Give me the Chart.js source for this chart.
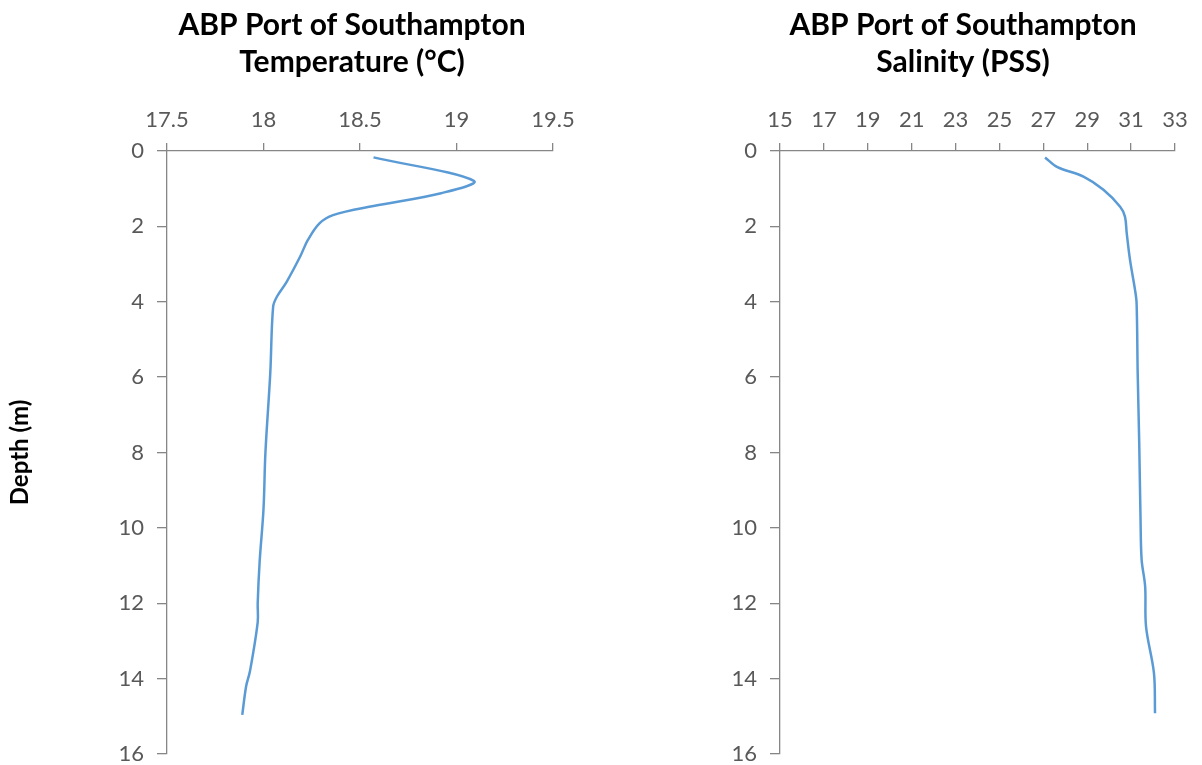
<!DOCTYPE html>
<html>
<head>
<meta charset="utf-8">
<script src="https://cdn.jsdelivr.net/npm/chart.js@4/dist/chart.umd.min.js"></script>
<style>
  html, body { margin: 0; padding: 0; overflow: hidden; background: #fff; }
  canvas { position: absolute; top: 0; display: block; }
  #tempChart { left: 0; }
  #salChart { left: 600px; }
</style>
</head>
<body>
<canvas id="tempChart" width="600" height="765"></canvas>
<canvas id="salChart" width="602" height="765"></canvas>
<script>
// depth profile
const tempDepth = [0.17, 0.79, 1.12, 1.46, 1.70, 1.92, 2.36, 2.80, 3.47, 3.86, 4.13, 5.9, 8.0, 9.5, 10.9, 12.0, 12.5, 13.8, 14.2, 14.96];
const temperature = [18.57, 19.09, 18.92, 18.57, 18.36, 18.29, 18.23, 18.19, 18.12, 18.07, 18.05, 18.035, 18.01, 18.0, 17.98, 17.97, 17.97, 17.93, 17.91, 17.89];

const salDepth = [0.17, 0.42, 0.68, 1.03, 1.48, 1.74, 2.18, 2.89, 3.69, 4.04, 5.9, 7.75, 9.8, 10.85, 11.56, 12.62, 13.85, 14.92];
const salinity = [27.08, 27.62, 28.83, 29.74, 30.5, 30.72, 30.8, 30.95, 31.18, 31.25, 31.3, 31.37, 31.43, 31.48, 31.64, 31.68, 32.04, 32.09];

const depthTicks = { min: 0, max: 16, step: 2 };
const tempTicks = { min: 17.5, max: 19.5, step: 0.5 };
const salTicks = { min: 15, max: 33, step: 2 };

const FONT = "Lato, 'Open Sans', sans-serif";
const lineBlue = "#5b9bd5";
const axisGrey = "#868686";
const labelGrey = "#595959";

// two-line heading centred over a given x
const headline = {
  id: "headline",
  afterDraw(chart, args, opts) {
    const ctx = chart.ctx;
    ctx.save();
    ctx.fillStyle = "#000";
    ctx.font = "bold 30px " + FONT;
    ctx.textAlign = "center";
    ctx.textBaseline = "middle";
    opts.lines.forEach((t, i) => ctx.fillText(t, opts.x, 25 + i * 37));
    ctx.restore();
  }
};

function toPoints(xs, ys) {
  return xs.map((v, i) => ({ x: v, y: ys[i] }));
}

function makeChart(id, data, xr, headX, lines, yWidth, padRight, depthTitle) {
  return new Chart(document.getElementById(id), {
    type: "scatter",
    data: {
      datasets: [{
        data: data,
        showLine: true,
        borderColor: lineBlue,
        borderWidth: 2.5,
        pointRadius: 0,
        tension: 0.35
      }]
    },
    options: {
      responsive: false,
      animation: false,
      layout: { padding: { top: 85, right: padRight, bottom: 11, left: 0 } },
      plugins: {
        legend: { display: false },
        tooltip: { enabled: false },
        headline: { x: headX, lines: lines }
      },
      scales: {
        x: {
          type: "linear",
          position: "top",
          min: xr.min, max: xr.max,
          afterFit: s => { s.height = 66; },
          border: { color: axisGrey, width: 1.3 },
          grid: { drawOnChartArea: false, color: axisGrey, tickLength: 8, lineWidth: 1.3 },
          ticks: {
            stepSize: xr.step, color: labelGrey, font: { family: FONT, size: 22 }, padding: 10,
            callback: v => String(v)
          }
        },
        y: {
          type: "linear",
          reverse: true,
          min: depthTicks.min, max: depthTicks.max,
          afterFit: s => { s.width = yWidth; s.paddingTop = 0; s.paddingBottom = 0; },
          border: { color: axisGrey, width: 1.3 },
          grid: { drawOnChartArea: false, color: axisGrey, tickLength: 10, lineWidth: 1.3 },
          ticks: { stepSize: depthTicks.step, color: labelGrey, font: { family: FONT, size: 22 }, padding: 13 },
          title: {
            display: depthTitle,
            text: "Depth (m)",
            color: "#000",
            font: { family: FONT, size: 24, weight: "bold" },
            padding: { top: 6 }
          }
        }
      }
    },
    plugins: [headline]
  });
}

makeChart("tempChart", toPoints(temperature, tempDepth), tempTicks, 352,
  ["ABP Port of Southampton", "Temperature (°C)"], 167, 47, true);
makeChart("salChart", toPoints(salinity, salDepth), salTicks, 963 - 600,
  ["ABP Port of Southampton", "Salinity (PSS)"], 180, 27, false);
</script>
</body>
</html>
